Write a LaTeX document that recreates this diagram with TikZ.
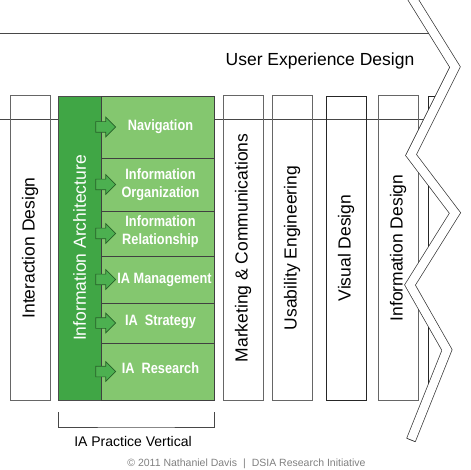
\documentclass[tikz,border=0pt]{standalone}
\usepackage{fontspec}
\setmainfont{Liberation Sans}
\newfontfamily\iafont[FakeStretch=0.85]{Liberation Sans}
\usetikzlibrary{positioning,shapes.arrows,calc}
\definecolor{IADark}{RGB}{64,166,69}
\definecolor{IALight}{RGB}{132,199,111}
\definecolor{IAArrow}{RGB}{76,176,80}
\definecolor{IAArrowLine}{RGB}{38,96,40}
\colorlet{LineGray}{black!72}

\begin{document}
\begin{tikzpicture}[
  x=1pt, y=-1pt,
  hline/.style={draw=LineGray, line width=0.8pt},
  vbox/.style={rectangle, draw=black!60, line width=1pt, minimum width=40pt, minimum height=304pt, inner sep=0pt, outer sep=0pt},
  vlabel/.style={rotate=90, inner sep=0pt, font=\fontsize{17.5}{20}\selectfont},
  iastrip/.style={rectangle, draw=black!70, fill=IADark, line width=0.8pt, minimum width=43pt, minimum height=304pt, inner sep=0pt, outer sep=0pt},
  iasub/.style={rectangle, draw=black!75, fill=IALight, line width=0.8pt, minimum width=113pt, inner sep=0pt, outer sep=0pt},
  iatext/.style={align=center, text=white, inner sep=0pt, xshift=3pt, font=\iafont\bfseries\fontsize{15}{17.5}\selectfont},
  iaarrow/.style={single arrow, draw=IAArrowLine, fill=IAArrow, line width=0.7pt, minimum height=20pt, inner xsep=0pt, inner ysep=5pt, single arrow head extend=4.5pt},
  band/.style={draw=black!80, line width=0.7pt, double=white, double distance=8.5pt, line join=miter}
]
\useasboundingbox (0,0) rectangle (471,470);

% Frame of the UX field
\draw[hline] (0,33) -- (440,33);
\draw[hline] (0,119) -- (440,119);
\node[anchor=base, font=\fontsize{17.5}{20}\selectfont] (uxd) at (320,66) {User Experience Design};

% Interaction Design
\node[vbox, anchor=north west, label={[vlabel]center:Interaction Design}] (ixd) at (10,96) {};

% Information Architecture vertical
\node[iastrip, right=8pt of ixd, label={[vlabel, text=white]center:Information Architecture}] (ia) {};
\node[iasub, minimum height=62pt, anchor=north west, label={[iatext]center:Navigation}] (nav) at (ia.north east) {};
\node[iasub, minimum height=53pt, below=0pt of nav, label={[iatext]center:Information\\Organization}] (org) {};
\node[iasub, minimum height=45pt, below=0pt of org, label={[iatext, yshift=2pt]center:Information\\Relationship}] (rel) {};
\node[iasub, minimum height=47pt, below=0pt of rel, label={[iatext, xshift=4pt]center:IA Management}] (mgt) {};
\node[iasub, minimum height=40pt, below=0pt of mgt, label={[iatext, yshift=1.5pt]center:IA\ \ Strategy}] (stg) {};
\node[iasub, minimum height=57pt, below=0pt of stg, label={[iatext, yshift=3pt]center:IA\ \ Research}] (res) {};

\foreach \s in {nav,org,rel,mgt,stg,res}
  \node[iaarrow] (arrow-\s) at ($(\s.west)+(2,0)$) {};

% Other disciplines
\node[vbox, right=9pt of nav.north east, anchor=north west, label={[vlabel]center:Marketing \& Communications}] (mkt) {};
\node[vbox, right=9pt of mkt, label={[vlabel]center:Usability Engineering}] (usab) {};
\node[vbox, right=14pt of usab, draw=black!85, line width=0.8pt, label={[vlabel]center:Visual Design}] (vis) {};
\node[vbox, right=12pt of vis, label={[vlabel]center:Information Design}] (infd) {};
\node[vbox, right=10pt of infd, draw=black!85, line width=0.8pt] (cnt) {};

% Bracket under the vertical
\coordinate (brk) at ($(ia.south west)!0.5!(res.south east)+(0,27)$);
\draw[hline] ($(ia.south west)+(0,12)$) |- (brk) -| ($(res.south east)+(0,12)$);
\node[anchor=base, font=\fontsize{14}{16}\selectfont] (iapv) at ($(brk)+(-3,19)$) {IA Practice Vertical};

% Zigzag edge
\coordinate (z0) at (411.5,-3);
\coordinate (z1) at (455,67);
\coordinate (z2) at (411,155);
\coordinate (z3) at (455,213);
\coordinate (z4) at (410,285);
\coordinate (z5) at (447,350);
\coordinate (z6) at (411,440);
\fill[white] (z0) -- (z1) -- (z2) -- (z3) -- (z4) -- (z5) -- (z6) -- (480,440) -- (480,-3) -- cycle;
\draw[band] (z0) -- (z1) -- (z2) -- (z3) -- (z4) -- (z5) -- (z6);
\draw[draw=black!80, line width=0.7pt] ($(z6)!4.6pt!90:(z5)$) -- ($(z6)!4.6pt!-90:(z5)$);

% Credit line
\node[anchor=base, text=black!50, font=\fontsize{10.5}{12}\selectfont] (credit) at (246.5,466) {© 2011 Nathaniel Davis\hspace{6pt}|\hspace{6pt}DSIA Research Initiative};

\end{tikzpicture}
\end{document}
